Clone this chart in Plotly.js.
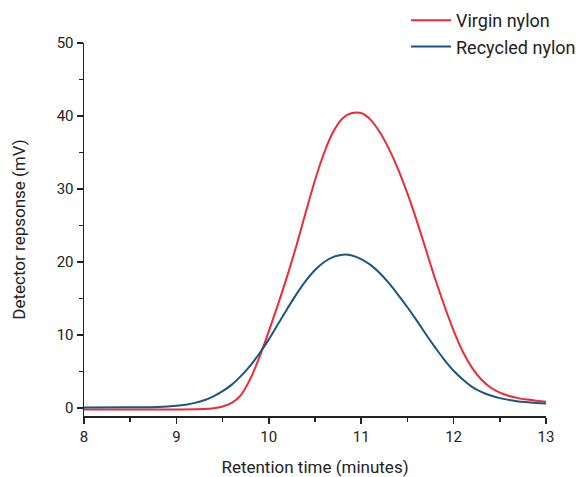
<!DOCTYPE html>
<html>
<head>
<meta charset="utf-8">
<script src="https://cdn.plot.ly/plotly-3.0.1.min.js"></script>
<style>html,body{margin:0;padding:0;background:#fff;}#chart{width:581px;height:477px;}</style>
</head>
<body>
<div id="chart"></div>
<script>
var virginX = [8.0, 8.5, 9.0, 9.3, 9.4, 9.5, 9.6, 9.7, 9.8, 9.9, 10.0, 10.1, 10.2, 10.3, 10.4, 10.5, 10.6, 10.7, 10.8, 10.9, 11.0, 11.1, 11.2, 11.3, 11.4, 11.5, 11.6, 11.7, 11.8, 11.9, 12.0, 12.1, 12.2, 12.3, 12.4, 12.5, 12.6, 12.7, 12.8, 12.9, 13.0];
var virginY = [-0.2, -0.2, -0.2, -0.15, -0.05, 0.2, 0.7, 1.8, 4.0, 7.0, 10.5, 14.2, 18.1, 22.3, 26.8, 31.2, 35.0, 37.9, 39.7, 40.4, 40.4, 39.5, 37.8, 35.5, 32.7, 29.4, 25.7, 21.7, 17.7, 14.0, 10.6, 7.7, 5.5, 3.9, 2.8, 2.1, 1.65, 1.35, 1.15, 1.0, 0.86];
var recycledX = [8.0, 8.5, 8.8, 9.0, 9.1, 9.2, 9.3, 9.4, 9.5, 9.6, 9.7, 9.8, 9.9, 10.0, 10.1, 10.2, 10.3, 10.4, 10.5, 10.6, 10.7, 10.8, 10.9, 11.0, 11.1, 11.2, 11.3, 11.4, 11.5, 11.6, 11.7, 11.8, 11.9, 12.0, 12.1, 12.2, 12.3, 12.4, 12.5, 12.6, 12.7, 12.8, 12.9, 13.0];
var recycledY = [0.05, 0.1, 0.15, 0.3, 0.45, 0.7, 1.05, 1.6, 2.3, 3.2, 4.4, 5.8, 7.5, 9.4, 11.5, 13.6, 15.6, 17.4, 18.9, 20.0, 20.7, 21.0, 20.9, 20.4, 19.6, 18.5, 17.1, 15.5, 13.8, 12.0, 10.1, 8.3, 6.6, 5.1, 3.9, 2.9, 2.2, 1.7, 1.35, 1.1, 0.9, 0.78, 0.68, 0.6];
var seriesNames = ["Virgin nylon", "Recycled nylon"];
var xTickVals = [8, 9, 10, 11, 12, 13];
var yTickVals = [0, 10, 20, 30, 40, 50];

var fontFam = "Roboto, 'Liberation Sans', sans-serif";

var traces = [
  {x: virginX, y: virginY, name: seriesNames[0], type: 'scatter', mode: 'lines',
   line: {color: '#ee2a36', width: 2, shape: 'spline', smoothing: 1}},
  {x: recycledX, y: recycledY, name: seriesNames[1], type: 'scatter', mode: 'lines',
   line: {color: '#1b5581', width: 2, shape: 'spline', smoothing: 1}}
];

var layout = {
  width: 581, height: 477,
  margin: {l: 84, r: 35, t: 43, b: 61, autoexpand: false},
  paper_bgcolor: '#fff', plot_bgcolor: '#fff',
  font: {family: fontFam, size: 15, color: '#222'},
  showlegend: true,
  legend: {x: 0.697, y: 1.11, xanchor: 'left', yanchor: 'top',
           font: {family: fontFam, size: 18, color: '#222'},
           bgcolor: 'rgba(0,0,0,0)', tracegroupgap: 0, itemwidth: 40},
  xaxis: {
    range: [8, 13], tickvals: xTickVals, ticktext: xTickVals.map(String),
    showgrid: false, zeroline: false, showline: true, linecolor: '#222', linewidth: 1.5,
    ticks: 'outside', ticklen: 6, tickwidth: 1.5, tickcolor: '#222',
    minor: {dtick: 0.5, ticks: 'outside', ticklen: 4, tickwidth: 1.5, tickcolor: '#222', showgrid: false},
    tickfont: {family: fontFam, size: 15, color: '#222'},
    title: {text: 'Retention time (minutes)', font: {family: fontFam, size: 17, color: '#222'}, standoff: 16}
  },
  yaxis: {
    range: [-1.1, 50], tickvals: yTickVals, ticktext: yTickVals.map(String),
    showgrid: false, zeroline: false, showline: true, linecolor: '#222', linewidth: 1.5,
    ticks: 'outside', ticklen: 6, tickwidth: 1.5, tickcolor: '#222',
    minor: {dtick: 5, tick0: 0, ticks: 'outside', ticklen: 4, tickwidth: 1.5, tickcolor: '#222', showgrid: false},
    tickfont: {family: fontFam, size: 15, color: '#222'},
    title: {text: 'Detector repsonse (mV)', font: {family: fontFam, size: 17, color: '#222'}, standoff: 26}
  }
};

Plotly.newPlot('chart', traces, layout, {displayModeBar: false, staticPlot: true});
</script>
</body>
</html>
